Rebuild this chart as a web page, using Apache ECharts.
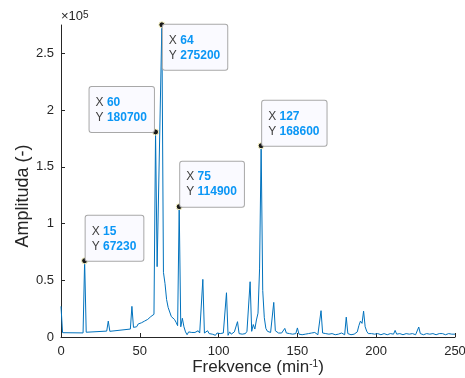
<!DOCTYPE html>
<html>
<head>
<meta charset="utf-8">
<script src="https://cdn.jsdelivr.net/npm/echarts@6/dist/echarts.min.js"></script>
<style>html,body{margin:0;padding:0;background:#fff}#c{width:465px;height:378px}</style>
</head>
<body>
<div id="c"></div>
<script>
// Spectrum vertices (frequency in min^-1, amplitude)
var freq = [0,1,14,15,16,29,30,31,44,45,46,47,48,49,50,51,52,53,54,55,56,57,58,59,60,61,64,65,66,67,68,69,70,71,72,73,74,75,76,77,78,79,80,81,82,83,84,85,86,87,88,89,90,91,92,93,94,95,96,97,98,99,100,101,102,103,104,105,106,107,108,109,110,111,112,113,114,115,116,117,118,119,120,121,122,123,124,125,126,127,128,129,130,131,132,133,134,135,136,137,138,139,140,141,142,143,144,145,146,147,148,149,150,151,152,153,154,155,156,157,158,159,160,161,162,163,164,165,166,167,168,169,170,171,172,173,174,175,176,177,178,179,180,181,182,183,184,185,186,187,188,189,190,191,192,193,194,195,196,197,198,199,200,201,202,203,204,205,206,207,208,209,210,211,212,213,214,215,216,217,218,219,220,221,222,223,224,225,226,227,228,229,230,231,232,233,234,235,236,237,238,239,240,241,242,243,244,245,246,247,248,249,250];
var amp = [27000,3800,3600,67230,4200,5200,14000,5000,7000,27000,8500,10000,9000,11500,10000,12500,11000,14000,12500,15500,14500,18000,16500,20000,180700,62000,275200,57000,47000,33000,26000,27000,18000,19000,15500,13000,10000,114900,9000,16500,9000,4500,2000,4500,3000,4000,2500,4000,3500,5500,3500,4500,50800,3500,5000,5500,3000,4500,2500,3000,1500,3500,2000,3000,1500,3500,2000,39000,1500,4500,2500,2000,4500,6000,13500,3000,4000,2500,4000,3000,5000,4000,48700,5000,11000,7000,15000,21000,60000,168600,41000,17000,7500,5000,3500,4000,3000,30500,5500,4000,3500,4500,3500,4000,7600,3500,2500,3000,2000,2500,2000,3000,8000,2500,3000,2000,3500,2500,2000,3000,2500,3500,3000,4000,2500,2000,3500,23200,3500,2500,3000,2000,2500,2000,3000,2500,2000,3000,2500,2000,3500,2500,2000,17500,3000,2500,2000,3000,2500,3500,4500,10000,14000,12000,22800,9000,5000,3000,2500,3000,2000,2500,2000,3000,2500,2000,3500,3000,2500,2000,2500,3000,2000,2500,5800,2500,2000,3000,2500,2000,2500,3000,2000,2500,2000,3000,2500,2000,2500,8800,3000,2500,2000,2500,3000,2000,2500,2000,3000,2500,2000,2500,3000,3500,3000,2500,2000,2500,3000,2000,2500,2000,2500,3000,3500];
// Data tips
var tipX = [15, 60, 64, 75, 127];
var tipY = [67230, 180700, 275200, 114900, 168600];
// Axis ticks
var xTicks = [0, 50, 100, 150, 200, 250];
var yTicks = [0, 50000, 100000, 150000, 200000, 250000];

var lineData = freq.map(function (f, i) { return [f, amp[i]]; });
var tipPlace = [
  {verticalAlign: 'bottom', offset: [1, 0]},
  {verticalAlign: 'bottom', offset: [-66, 0]},
  {verticalAlign: 'top', offset: [1, 0]},
  {verticalAlign: 'bottom', offset: [1, 0]},
  {verticalAlign: 'bottom', offset: [1, 0]}
];
var tipData = tipX.map(function (x, i) {
  var p = tipPlace[i];
  return {
    value: [x, tipY[i]],
    label: {
      show: true,
      position: ['50%', '50%'],
      align: 'left',
      verticalAlign: p.verticalAlign,
      offset: p.offset
    }
  };
});

var axisColor = '#262626';
var font = '"Liberation Sans", Arial, Helvetica, sans-serif';
var chart = echarts.init(document.getElementById('c'), null, {renderer: 'canvas'});
chart.setOption({
  animation: false,
  backgroundColor: '#ffffff',
  grid: {left: 61, right: 10, top: 25, bottom: 41, outerBoundsMode: 'none', containLabel: false},
  xAxis: {
    type: 'value', min: 0, max: 250, interval: 50,
    name: 'Frekvence (min{sup|-1})',
    nameLocation: 'middle', nameGap: 22, nameMoveOverlap: false,
    nameTextStyle: {
      color: axisColor, fontSize: 17, fontFamily: font, lineHeight: 17,
      rich: {sup: {fontSize: 10, lineHeight: 10, verticalAlign: 'top', color: axisColor, fontFamily: font}}
    },
    axisLine: {show: true, onZero: false, lineStyle: {color: axisColor, width: 1}},
    axisTick: {show: true, inside: true, length: 4, lineStyle: {color: axisColor}, customValues: xTicks},
    axisLabel: {color: axisColor, fontSize: 13, fontFamily: font, margin: 8, customValues: xTicks},
    splitLine: {show: false}
  },
  yAxis: {
    type: 'value', min: 0, max: 275000, interval: 50000,
    name: 'Amplituda (-)',
    nameLocation: 'middle', nameGap: 29, nameRotate: 90, nameMoveOverlap: false,
    nameTextStyle: {color: axisColor, fontSize: 18, fontFamily: font, padding: [0, 30, 0, 0]},
    axisLine: {show: true, onZero: false, lineStyle: {color: axisColor, width: 1}},
    axisTick: {show: true, inside: true, length: 4, lineStyle: {color: axisColor}, customValues: yTicks},
    axisLabel: {
      color: axisColor, fontSize: 13, fontFamily: font, margin: 7, customValues: yTicks,
      formatter: function (v) { return String(v / 100000); }
    },
    splitLine: {show: false}
  },
  graphic: [{
    type: 'text', left: 61, top: 10,
    style: {
      text: '×10{s|5}', fill: axisColor, fontSize: 13, fontFamily: font,
      rich: {s: {fontSize: 10, verticalAlign: 'top', lineHeight: 10, fill: axisColor, fontFamily: font}}
    }
  }],
  series: [{
    type: 'line', data: lineData, showSymbol: false, symbol: 'none',
    lineStyle: {color: '#0072BD', width: 1}, z: 2
  }, {
    type: 'scatter', data: tipData, symbol: 'circle', symbolSize: 6, z: 5, clip: false,
    itemStyle: {color: '#1a1a1a', borderColor: '#fffbc8', borderWidth: 1, opacity: 1},
    label: {
      formatter: function (p) {
        return '{k|X} {v|' + p.value[0] + '}\n{k|Y} {v|' + p.value[1] + '}';
      },
      backgroundColor: '#fafaff', borderColor: '#a8a8a8', borderWidth: 1, borderRadius: 2,
      padding: [8, 7, 7, 6],
      fontFamily: font, fontSize: 12, lineHeight: 15,
      rich: {
        k: {color: '#404040', fontSize: 12, lineHeight: 15, fontFamily: font},
        v: {color: '#0a96f5', fontSize: 12, lineHeight: 15, fontWeight: 'bold', fontFamily: font}
      }
    },
    emphasis: {disabled: true}
  }]
});
</script>
</body>
</html>
